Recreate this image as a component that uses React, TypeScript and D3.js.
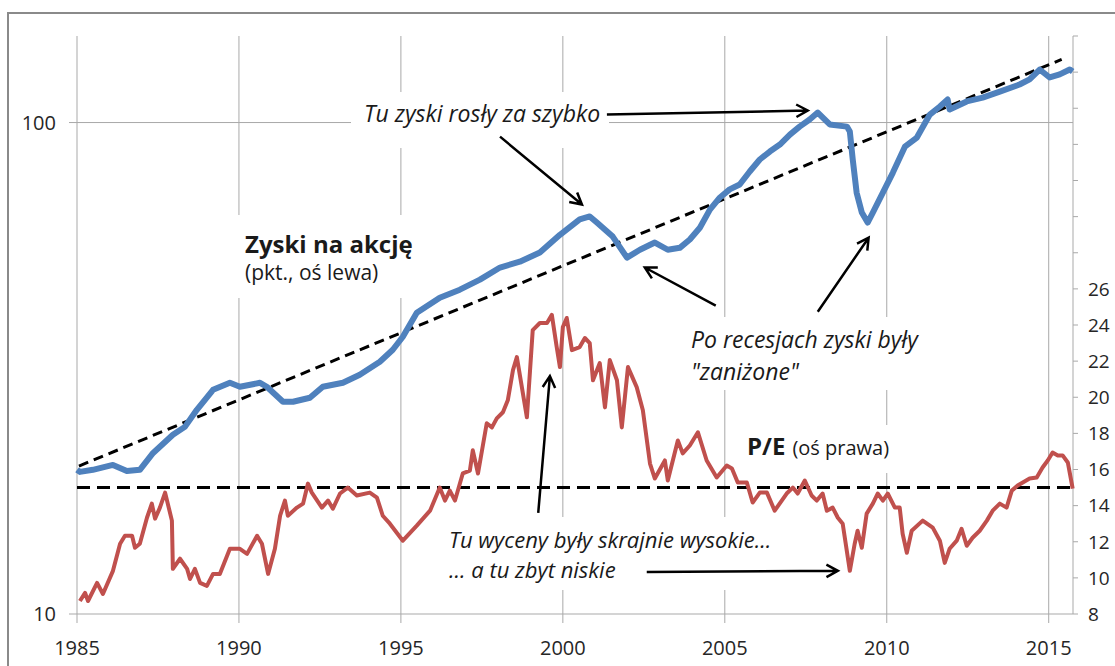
import * as d3 from "d3";

// Zyski na akcję (EPS, left log axis)
const epsYears = [1985.0, 1985.09, 1985.49, 1986.11, 1986.54, 1986.94, 1987.35, 1987.96, 1988.33, 1988.7, 1989.2, 1989.72, 1990.03, 1990.65, 1990.86, 1991.36, 1991.67, 1992.19, 1992.59, 1993.21, 1993.73, 1994.35, 1994.75, 1995.06, 1995.49, 1996.2, 1996.82, 1997.44, 1998.06, 1998.67, 1999.29, 1999.91, 2000.52, 2000.83, 2001.05, 2001.54, 2001.98, 2002.38, 2002.84, 2003.24, 2003.61, 2003.92, 2004.23, 2004.54, 2004.85, 2005.15, 2005.46, 2005.77, 2006.08, 2006.39, 2006.7, 2007.01, 2007.31, 2007.62, 2007.87, 2008.24, 2008.77, 2008.86, 2008.95, 2009.07, 2009.23, 2009.41, 2009.57, 2009.88, 2010.19, 2010.56, 2010.93, 2011.33, 2011.64, 2011.88, 2011.94, 2012.47, 2012.96, 2013.49, 2014.1, 2014.41, 2014.72, 2015.03, 2015.34, 2015.65, 2015.74];
const epsValues = [19.65, 19.46, 19.65, 20.11, 19.55, 19.65, 21.27, 23.15, 24.03, 26.03, 28.59, 29.54, 29.0, 29.54, 29.0, 27.03, 27.03, 27.54, 29.0, 29.54, 30.68, 32.6, 34.49, 36.66, 41.02, 44.02, 45.7, 47.9, 50.7, 52.1, 54.4, 59.1, 63.5, 64.4, 62.6, 58.6, 53.1, 55.1, 57.0, 55.1, 55.6, 57.8, 61.1, 66.5, 70.4, 73.1, 74.8, 79.5, 84.1, 87.3, 90.2, 94.5, 98.1, 101.4, 104.8, 99.1, 98.1, 95.9, 84.1, 72.0, 65.6, 62.6, 65.6, 72.0, 79.1, 89.3, 93.2, 103.8, 107.8, 111.4, 106.3, 110.4, 112.4, 115.6, 119.5, 122.4, 128.2, 123.5, 125.3, 128.2, 127.0];

// trend of EPS
const trendYears = [1985.06, 2015.4];
const trendValues = [20.0, 134.4];

// P/E (right axis)
const peYears = [1985.09, 1985.25, 1985.34, 1985.62, 1985.8, 1986.11, 1986.33, 1986.48, 1986.7, 1986.79, 1986.94, 1987.16, 1987.31, 1987.41, 1987.56, 1987.72, 1987.93, 1987.96, 1988.18, 1988.4, 1988.49, 1988.64, 1988.8, 1989.01, 1989.2, 1989.41, 1989.72, 1990.03, 1990.25, 1990.56, 1990.71, 1990.9, 1991.11, 1991.27, 1991.42, 1991.51, 1991.79, 1991.98, 1992.13, 1992.25, 1992.56, 1992.75, 1992.9, 1993.12, 1993.36, 1993.64, 1994.04, 1994.26, 1994.44, 1994.66, 1995.06, 1995.49, 1995.9, 1996.2, 1996.36, 1996.51, 1996.67, 1996.91, 1997.13, 1997.22, 1997.38, 1997.65, 1997.81, 1997.96, 1998.15, 1998.3, 1998.46, 1998.58, 1998.89, 1999.07, 1999.29, 1999.51, 1999.66, 1999.81, 1999.91, 2000.0, 2000.12, 2000.28, 2000.52, 2000.68, 2000.83, 2000.93, 2001.14, 2001.3, 2001.45, 2001.67, 2001.82, 2002.01, 2002.28, 2002.47, 2002.69, 2002.84, 2003.15, 2003.24, 2003.55, 2003.7, 2003.92, 2004.17, 2004.44, 2004.75, 2005.06, 2005.22, 2005.4, 2005.68, 2005.86, 2006.08, 2006.3, 2006.54, 2006.91, 2007.1, 2007.25, 2007.47, 2007.68, 2007.84, 2008.02, 2008.15, 2008.33, 2008.49, 2008.64, 2008.86, 2009.01, 2009.1, 2009.23, 2009.38, 2009.57, 2009.72, 2009.88, 2010.03, 2010.25, 2010.4, 2010.49, 2010.62, 2010.77, 2011.11, 2011.42, 2011.64, 2011.79, 2011.94, 2012.16, 2012.31, 2012.47, 2012.65, 2012.87, 2013.09, 2013.27, 2013.49, 2013.7, 2013.86, 2014.04, 2014.2, 2014.41, 2014.63, 2014.81, 2014.97, 2015.12, 2015.28, 2015.43, 2015.59, 2015.74];
const peValues = [8.72, 9.17, 8.72, 9.72, 9.11, 10.39, 11.89, 12.33, 12.33, 11.67, 11.89, 13.33, 14.11, 13.28, 13.89, 14.72, 13.17, 10.5, 11.06, 10.5, 9.94, 10.5, 9.72, 9.56, 10.22, 10.22, 11.61, 11.61, 11.33, 12.33, 11.89, 10.22, 11.61, 13.44, 14.28, 13.44, 13.89, 14.11, 15.22, 14.72, 13.89, 14.28, 13.83, 14.67, 15.0, 14.56, 14.72, 14.44, 13.44, 13.0, 12.06, 12.89, 13.72, 15.0, 14.28, 14.83, 14.28, 15.78, 15.94, 17.06, 15.78, 18.56, 18.33, 18.83, 19.17, 19.83, 21.5, 22.22, 18.89, 23.72, 24.11, 24.11, 24.56, 22.78, 21.67, 23.89, 24.39, 22.61, 22.78, 23.28, 23.0, 20.94, 21.89, 19.44, 22.06, 20.94, 18.33, 21.67, 20.56, 19.28, 16.33, 15.5, 16.5, 15.39, 17.61, 16.89, 17.33, 18.06, 16.5, 15.56, 16.22, 16.06, 15.28, 15.28, 14.17, 14.72, 14.72, 13.72, 14.67, 15.0, 14.67, 15.39, 14.56, 14.28, 14.67, 13.72, 13.89, 13.33, 13.0, 10.39, 11.89, 12.61, 11.67, 13.56, 14.11, 14.67, 14.28, 14.67, 13.89, 13.89, 12.44, 11.39, 12.61, 13.17, 12.78, 12.06, 10.83, 11.61, 12.06, 12.72, 11.78, 12.22, 12.61, 13.17, 13.72, 14.11, 13.89, 14.83, 15.11, 15.28, 15.5, 15.56, 16.11, 16.5, 16.94, 16.78, 16.78, 16.39, 14.94];

const peAverage = 15;

const yearTicks = [1985, 1990, 1995, 2000, 2005, 2010, 2015];
const leftTicks = [10, 100];
const rightTicks = d3.range(8, 41, 2);
const rightLabelMax = 26;

// arrows: [x1, y1, x2, y2] in data units (year, value on axis)
const epsArrows = [
  [2001.36, 103.8, 2007.56, 105.8],
  [1998.06, 93.6, 2000.59, 68.1],
  [2004.72, 42.4, 2002.53, 50.7],
  [2007.87, 41.2, 2009.44, 58.3],
];
const peArrows = [
  [1999.24, 13.6, 1999.6, 21.17],
  [2002.59, 10.33, 2008.49, 10.39],
];

const W = 1115;
const H = 666;
const FONT = "'Open Sans', sans-serif";

function arrowPath(x1: number, y1: number, x2: number, y2: number) {
  const a = Math.atan2(y2 - y1, x2 - x1);
  const L = 13;
  const s = 0.5;
  const ax = x2 - L * Math.cos(a - s);
  const ay = y2 - L * Math.sin(a - s);
  const bx = x2 - L * Math.cos(a + s);
  const by = y2 - L * Math.sin(a + s);
  return `M${x1},${y1}L${x2},${y2}M${ax},${ay}L${x2},${y2}L${bx},${by}`;
}

export default function App() {
  const x = d3.scaleLinear().domain([1985, 2015.75]).range([77, 1073]);
  const yL = d3.scaleLog().domain([10, 150]).range([614, 36]);
  const yR = d3.scaleLinear().domain([8, 40]).range([614, 36]);

  const epsLine = d3
    .line<number>()
    .x((_, i) => x(epsYears[i]))
    .y((d) => yL(d));
  const peLine = d3
    .line<number>()
    .x((_, i) => x(peYears[i]))
    .y((d) => yR(d));
  const trendLine = d3
    .line<number>()
    .x((_, i) => x(trendYears[i]))
    .y((d) => yL(d));

  const grid = "#a9a9a9";
  const [x0, x1] = x.range();
  const yBottom = yL(10);
  const yTop = yL(150);
  const ink = "#1a1a1a";

  return (
    <svg
      width={W}
      height={H}
      style={{ position: "absolute", left: 0, top: 0, background: "#fff" }}
      fontFamily={FONT}
    >
      <rect x={8} y={13} width={1200} height={700} fill="#fff" stroke="#8a8a8a" strokeWidth={2} />

      {/* vertical gridlines with ticks below axis */}
      {yearTicks.map((t) => (
        <line key={t} x1={x(t)} x2={x(t)} y1={yTop} y2={yBottom + 9} stroke={grid} strokeWidth={1} />
      ))}
      {/* horizontal gridlines on left axis */}
      {leftTicks.map((t) => (
        <line key={t} x1={x0 - 8} x2={x1} y1={yL(t)} y2={yL(t)} stroke={grid} strokeWidth={1} />
      ))}
      {/* right axis */}
      <line x1={x1} x2={x1} y1={yTop} y2={yBottom} stroke={grid} strokeWidth={1} />
      {rightTicks.map((t) => (
        <line key={t} x1={x1} x2={x1 + 5} y1={yR(t)} y2={yR(t)} stroke={grid} strokeWidth={1} />
      ))}

      {/* white annotation boxes hiding gridlines */}
      <rect x={351} y={92} width={258} height={56} fill="#fff" />
      <rect x={234} y={215} width={182} height={83} fill="#fff" />
      <rect x={680} y={317} width={246} height={73} fill="#fff" />
      <rect x={737} y={425} width={165} height={48} fill="#fff" />
      <rect x={440} y={517} width={360} height={73} fill="#fff" />

      {/* axis labels */}
      {leftTicks.map((t) => (
        <text key={t} x={56} y={yL(t)} dy="0.36em" textAnchor="end" fontSize={20} fill="#262626">
          {t}
        </text>
      ))}
      {yearTicks.map((t) => (
        <text key={t} x={x(t)} y={655} textAnchor="middle" fontSize={20} fill="#262626">
          {t}
        </text>
      ))}
      {rightTicks
        .filter((t) => t <= rightLabelMax)
        .map((t) => (
          <text key={t} x={1088} y={yR(t)} dy="0.36em" fontSize={19} fill="#262626">
            {t}
          </text>
        ))}

      {/* series */}
      <path d={trendLine(trendValues) ?? ""} fill="none" stroke="#000" strokeWidth={3} strokeDasharray="10,6" />
      <line
        x1={x0}
        x2={x1}
        y1={yR(peAverage)}
        y2={yR(peAverage)}
        stroke="#000"
        strokeWidth={3}
        strokeDasharray="13,7"
      />
      <path d={peLine(peValues) ?? ""} fill="none" stroke="#c0504d" strokeWidth={4} strokeLinejoin="round" />
      <path d={epsLine(epsValues) ?? ""} fill="none" stroke="#4f81bd" strokeWidth={6} strokeLinejoin="round" />

      {/* arrows */}
      {epsArrows.map(([a, b, c, d], i) => (
        <path key={"e" + i} d={arrowPath(x(a), yL(b), x(c), yL(d))} fill="none" stroke="#000" strokeWidth={2.5} />
      ))}
      {peArrows.map(([a, b, c, d], i) => (
        <path key={"p" + i} d={arrowPath(x(a), yR(b), x(c), yR(d))} fill="none" stroke="#000" strokeWidth={2.5} />
      ))}

      {/* annotation texts */}
      <text x={364} y={122} fontSize={23} fontStyle="italic" fill={ink}>
        Tu zyski rosły za szybko
      </text>
      <text x={245} y={253} fontSize={24} fontWeight="bold" fill={ink}>
        Zyski na akcję
      </text>
      <text x={245} y={280} fontSize={21} fill={ink}>
        (pkt., oś lewa)
      </text>
      <text x={691} y={348} fontSize={23} fontStyle="italic" fill={ink}>
        Po recesjach zyski były
      </text>
      <text x={691} y={380} fontSize={23} fontStyle="italic" fill={ink}>
        "zaniżone"
      </text>
      <text x={747} y={455} fontSize={24} fontWeight="bold" fill={ink}>
        P/E
        <tspan fontSize={20} fontWeight="normal" dx={7}>
          (oś prawa)
        </tspan>
      </text>
      <text x={449} y={548} fontSize={22} fontStyle="italic" fill={ink}>
        Tu wyceny były skrajnie wysokie...
      </text>
      <text x={449} y={578} fontSize={22} fontStyle="italic" fill={ink}>
        ... a tu zbyt niskie
      </text>
    </svg>
  );
}
